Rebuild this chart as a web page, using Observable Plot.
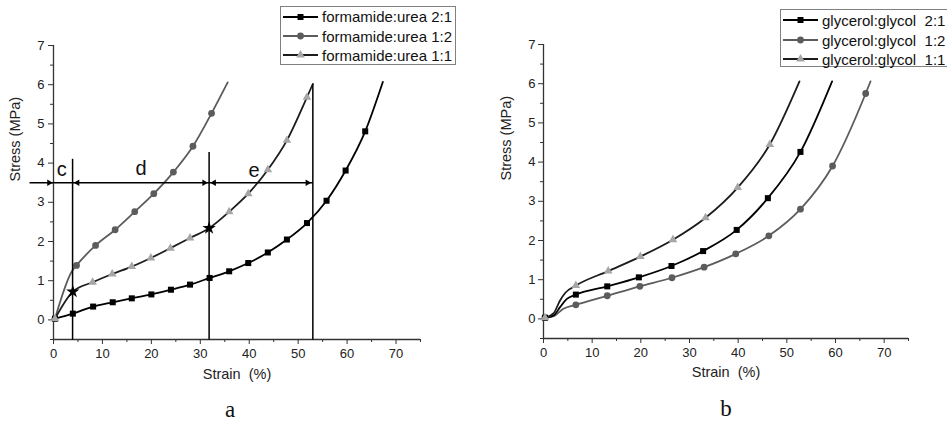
<!DOCTYPE html>
<html>
<head>
<meta charset="utf-8">
<script src="https://cdn.jsdelivr.net/npm/d3@7"></script>
<script src="https://cdn.jsdelivr.net/npm/@observablehq/plot@0.6"></script>
<style>
  body { margin: 0; background: #fff; }
  #root { position: relative; width: 947px; height: 423px; overflow: hidden; background: #fff;
          font-family: "Liberation Sans", Arial, sans-serif; }
  .panel { position: absolute; top: 0; }
  .legend { position: absolute; border: 1px solid #808080; background: #fff; }
  .row { position: absolute; left: 0; height: 18px; display: flex; align-items: center; white-space: pre;
         font-size: 15px; color: #111; }
  .row svg { display: block; margin-right: 3px; }
  .cap { position: absolute; font-family: "Liberation Serif", "Times New Roman", serif; font-size: 23px; color: #111;
         transform: translate(-50%, -50%); }
</style>
</head>
<body>
<div id="root">
  <div id="pa" class="panel" style="left:0"></div>
  <div id="pb" class="panel" style="left:473px"></div>
  <div class="cap" style="left:230px; top:410px">a</div>
  <div class="cap" style="left:726px; top:409px">b</div>
</div>
<script>
// ---------- Panel a : formamide:urea ----------
const aLabels = ["formamide:urea 2:1", "formamide:urea 1:2", "formamide:urea 1:1"];
// 2:1 (black, squares)
const aX21 = [0.3, 3.95, 8.1, 12.1, 16.0, 20.0, 24.0, 27.9, 31.9, 35.9, 39.8, 43.8, 47.7, 51.8, 55.8, 59.7, 63.7, 67.3];
const aY21 = [0.03, 0.16, 0.34, 0.45, 0.55, 0.65, 0.77, 0.90, 1.07, 1.24, 1.45, 1.72, 2.05, 2.47, 3.04, 3.81, 4.81, 6.07];
const aMX21 = [0.3, 3.95, 8.1, 12.1, 16.0, 20.0, 24.0, 27.9, 31.9, 35.9, 39.8, 43.8, 47.7, 51.8, 55.8, 59.7, 63.7];
const aMY21 = [0.03, 0.16, 0.34, 0.45, 0.55, 0.65, 0.77, 0.90, 1.07, 1.24, 1.45, 1.72, 2.05, 2.47, 3.04, 3.81, 4.81];
// 1:2 (gray, circles)
const aX12 = [0.3, 3.8, 4.7, 8.6, 12.6, 16.6, 20.5, 24.5, 28.5, 32.3, 35.6];
const aY12 = [0.03, 1.25, 1.39, 1.90, 2.30, 2.76, 3.22, 3.77, 4.43, 5.27, 6.06];
const aMX12 = [0.3, 4.7, 8.6, 12.6, 16.6, 20.5, 24.5, 28.5, 32.3];
const aMY12 = [0.03, 1.39, 1.90, 2.30, 2.76, 3.22, 3.77, 4.43, 5.27];
// 1:1 (dark line, light triangles)
const aX11 = [0.3, 3.95, 8.0, 12.0, 16.0, 19.9, 23.9, 27.9, 31.8, 35.9, 39.8, 43.8, 47.7, 51.8, 53.0];
const aY11 = [0.03, 0.72, 0.96, 1.17, 1.36, 1.58, 1.83, 2.09, 2.34, 2.76, 3.22, 3.83, 4.58, 5.68, 6.02];
const aMX11 = [0.3, 8.0, 12.0, 16.0, 19.9, 23.9, 27.9, 35.9, 39.8, 43.8, 47.7, 51.8];
const aMY11 = [0.03, 0.96, 1.17, 1.36, 1.58, 1.83, 2.09, 2.76, 3.22, 3.83, 4.58, 5.68];
// annotation: stars, region boundaries, arrow line, labels
const starX = [3.95, 31.8];
const starY = [0.72, 2.34];
const vLineX = [3.9, 31.8, 53.0];
const vLineTop = [4.11, 4.28, 6.02];
const arrowLineX = [-4.9, 53.0];
const arrowLineY = 3.5;
const headX = [-0.9, 4.9, 30.8, 32.8, 51.9];
const headDir = [90, -90, 90, -90, 90];
const regionLabels = ["c", "d", "e"];
const regionX = [1.7, 17.9, 41.0];
const regionY = [3.84, 3.86, 3.80];

// ---------- Panel b : glycerol:glycol ----------
const bLabels = ["glycerol:glycol\u00a0\u00a02:1", "glycerol:glycol\u00a0\u00a01:2", "glycerol:glycol\u00a0\u00a01:1"];
const bX21 = [0.3, 2.1, 3.4, 4.8, 6.65, 13.1, 19.6, 26.3, 32.8, 39.7, 46.1, 52.8, 59.3];
const bY21 = [0.03, 0.09, 0.30, 0.51, 0.62, 0.83, 1.06, 1.35, 1.73, 2.27, 3.08, 4.26, 6.06];
const bMX21 = [0.3, 6.65, 13.1, 19.6, 26.3, 32.8, 39.7, 46.1, 52.8];
const bMY21 = [0.03, 0.62, 0.83, 1.06, 1.35, 1.73, 2.27, 3.08, 4.26];
const bX12 = [0.3, 2.1, 4.1, 6.65, 13.1, 19.8, 26.4, 33.0, 39.5, 46.3, 52.8, 59.4, 66.2, 67.2];
const bY12 = [0.03, 0.07, 0.26, 0.36, 0.59, 0.83, 1.05, 1.32, 1.66, 2.12, 2.80, 3.90, 5.75, 6.06];
const bMX12 = [0.3, 6.65, 13.1, 19.8, 26.4, 33.0, 39.5, 46.3, 52.8, 59.4, 66.2];
const bMY12 = [0.03, 0.36, 0.59, 0.83, 1.05, 1.32, 1.66, 2.12, 2.80, 3.90, 5.75];
const bX11 = [0.3, 2.1, 3.4, 4.45, 6.65, 13.3, 19.9, 26.6, 33.3, 39.9, 46.5, 52.6];
const bY11 = [0.03, 0.15, 0.47, 0.66, 0.85, 1.22, 1.59, 2.02, 2.58, 3.35, 4.45, 6.06];
const bMX11 = [0.3, 6.65, 13.3, 19.9, 26.6, 33.3, 39.9, 46.5];
const bMY11 = [0.03, 0.85, 1.22, 1.59, 2.02, 2.58, 3.35, 4.45];

// ---------- axes ----------
const xMajor = [0, 10, 20, 30, 40, 50, 60, 70];
const xMinor = [5, 15, 25, 35, 45, 55, 65, 75];
const yMajor = [0, 1, 2, 3, 4, 5, 6, 7];
const yMinor = [-0.5, 0.5, 1.5, 2.5, 3.5, 4.5, 5.5, 6.5];
const xDomain = [0, 75];
const yDomain = [-0.5, 7];
const xTitle = "Strain\u00a0\u00a0(%)";
const yTitle = "Stress (MPa)";

const C21 = "#000000", C12 = "#5c5c5c", C11line = "#1c1c1c", C11mark = "#a6a6a6";
const pts = (xs, ys) => xs.map((x, i) => ({x, y: ys[i]}));

function seriesMarks(X21, Y21, MX21, MY21, X12, Y12, MX12, MY12, X11, Y11, MX11, MY11) {
  return [
    Plot.line(pts(X12, Y12), {x: "x", y: "y", stroke: C12, strokeWidth: 1.8, curve: "monotone-x"}),
    Plot.line(pts(X21, Y21), {x: "x", y: "y", stroke: C21, strokeWidth: 1.8, curve: "monotone-x"}),
    Plot.line(pts(X11, Y11), {x: "x", y: "y", stroke: C11line, strokeWidth: 1.8, curve: "monotone-x"}),
    Plot.dot(pts(MX12, MY12), {x: "x", y: "y", symbol: "circle", r: 3.4, fill: C12, stroke: "none"}),
    Plot.dot(pts(MX21, MY21), {x: "x", y: "y", symbol: "square", r: 3.4, fill: C21, stroke: "none"}),
    Plot.dot(pts(MX11, MY11), {x: "x", y: "y", symbol: "triangle", r: 3.2, fill: C11mark, stroke: "none"})
  ];
}

function axisMarks(tp, titleDx, titleDy, xTitleDy) {
  return [
    Plot.ruleX([0], {stroke: "#333", strokeWidth: 1.3}),
    Plot.ruleY([-0.5], {stroke: "#333", strokeWidth: 1.3}),
    Plot.axisX({ticks: xMajor, tickSize: 5, tickPadding: 4, label: null, stroke: "#333", color: "#222", tickFormat: d => String(d)}),
    Plot.axisX({ticks: xMinor, tickSize: 3, label: null, stroke: "#333", tickFormat: () => ""}),
    Plot.axisY({ticks: yMajor, tickSize: 5, tickPadding: tp, label: null, stroke: "#333", color: "#222", tickFormat: d => String(d)}),
    Plot.axisY({ticks: yMinor, tickSize: 3, label: null, stroke: "#333", tickFormat: () => ""}),
    Plot.text([xTitle], {frameAnchor: "bottom", dy: xTitleDy, fontSize: 14.5, fill: "#222"}),
    Plot.text([yTitle], {frameAnchor: "left", rotate: -90, dx: titleDx, dy: titleDy, fontSize: 14.5, fill: "#222"})
  ];
}

const common = {
  height: 392,
  x: {domain: xDomain},
  y: {domain: yDomain},
  style: {fontFamily: "'Liberation Sans', Arial, sans-serif", fontSize: "13px", background: "transparent", overflow: "visible"}
};

const plotA = Plot.plot({
  ...common,
  width: 473, marginLeft: 53, marginRight: 53, marginTop: 45, marginBottom: 53,
  marks: [
    ...axisMarks(4, -38, -11, 39),
    ...seriesMarks(aX21, aY21, aMX21, aMY21, aX12, aY12, aMX12, aMY12, aX11, aY11, aMX11, aMY11),
    Plot.link(vLineX.map((x, i) => ({x, top: vLineTop[i]})), {x1: "x", x2: "x", y1: -0.5, y2: "top", stroke: "#000", strokeWidth: 1.5}),
    Plot.link([{x1: arrowLineX[0], x2: arrowLineX[1], y: arrowLineY}], {x1: "x1", x2: "x2", y1: "y", y2: "y", stroke: "#000", strokeWidth: 1.5}),
    Plot.dot(headX.map((x, i) => ({x, rot: headDir[i]})), {x: "x", y: arrowLineY, symbol: "triangle", rotate: "rot", r: 2.4, fill: "#000", stroke: "none"}),
    Plot.dot(pts(starX, starY), {x: "x", y: "y", symbol: "star", r: 4.2, fill: "#000", stroke: "none"}),
    Plot.text(regionLabels.map((t, i) => ({t, x: regionX[i], y: regionY[i]})), {x: "x", y: "y", text: "t", fontSize: 20, fill: "#111"})
  ]
});
document.getElementById("pa").appendChild(plotA);

const plotB = Plot.plot({
  ...common,
  width: 474, marginLeft: 70, marginRight: 39, marginTop: 44, marginBottom: 54,
  marks: [
    ...axisMarks(3, -37, -11, 38),
    ...seriesMarks(bX21, bY21, bMX21, bMY21, bX12, bY12, bMX12, bMY12, bX11, bY11, bMX11, bMY11)
  ]
});
document.getElementById("pb").appendChild(plotB);

// ---------- legends ----------
const swatch = [
  {line: C21, fill: C21, sym: d3.symbolSquare, size: 36},
  {line: C12, fill: C12, sym: d3.symbolCircle, size: 36},
  {line: C11line, fill: C11mark, sym: d3.symbolTriangle, size: 32}
];
function legend(left, top, width, height, labels, rowYs) {
  const root = document.getElementById("root");
  const box = document.createElement("div");
  box.className = "legend";
  Object.assign(box.style, {left: left + "px", top: top + "px", width: width + "px", height: height + "px"});
  labels.forEach((lab, i) => {
    const row = document.createElement("div");
    row.className = "row";
    row.style.top = (rowYs[i] - top - 9) + "px";
    row.style.left = "1px";
    const s = swatch[i];
    const svg = d3.create("svg").attr("width", 37).attr("height", 12);
    svg.append("line").attr("x1", 1).attr("x2", 36).attr("y1", 6).attr("y2", 6).attr("stroke", s.line).attr("stroke-width", 1.8);
    svg.append("path").attr("d", d3.symbol(s.sym, s.size)()).attr("transform", "translate(18.5,6)").attr("fill", s.fill);
    row.appendChild(svg.node());
    const span = document.createElement("span");
    span.textContent = lab;
    row.appendChild(span);
    box.appendChild(row);
  });
  root.appendChild(box);
}
legend(280, 6, 174, 57, aLabels, [15.7, 35, 54]);
legend(780, 9, 200, 56, bLabels, [19, 39, 58.3]);
</script>
</body>
</html>
